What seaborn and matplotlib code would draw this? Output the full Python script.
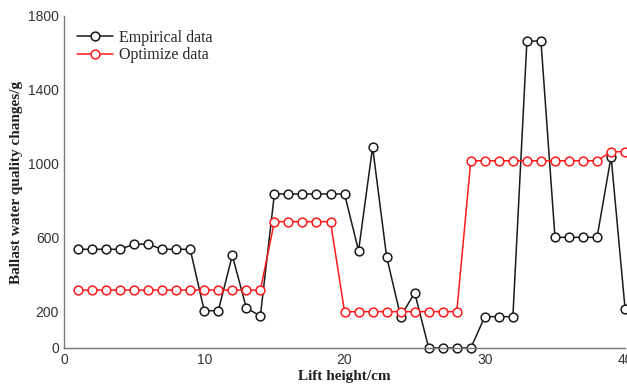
import numpy as np
import pandas as pd
import matplotlib
matplotlib.use("Agg")
import matplotlib.pyplot as plt
import seaborn as sns

# Data
lift_height = list(range(1, 41))
empirical = [535, 535, 535, 535, 563, 563, 535, 535, 535, 202,
             202, 502, 217, 173, 835, 835, 835, 835, 835, 835,
             527, 1089, 495, 170, 300, 0, 0, 0, 0, 170,
             170, 170, 1664, 1664, 600, 600, 600, 600, 1037, 210]
optimized = [314] * 14 + [685] * 5 + [197] * 9 + [1015] * 10 + [1064] * 2

series = {
    "Empirical data": (empirical, "#1a1a1a"),
    "Optimize data": (optimized, "#ff1a1a"),
}

sns.set_style("white")
plt.rcParams["font.family"] = ["Liberation Sans", "DejaVu Sans"]

fig = plt.figure(figsize=(6.27, 3.89), dpi=100)
ax = fig.add_axes([0.102, 0.1054, 0.895, 0.8536])

for name, (vals, col) in series.items():
    sns.lineplot(
        x=lift_height, y=vals, color=col, label=name,
        marker="o", markersize=6.3, markerfacecolor="white",
        markeredgecolor=col, markeredgewidth=1.1,
        linewidth=1.1, ax=ax, clip_on=False)

ax.set_xlim(0, 40)
ax.set_ylim(0, 1800)
ax.set_xticks([0, 10, 20, 30, 40])
ax.set_yticks([0, 200, 600, 1000, 1400, 1800])
ax.tick_params(direction="in", length=4, colors="#555555", labelsize=10,
               labelcolor="#333333", width=0.8)
for side in ["top", "right"]:
    ax.spines[side].set_visible(False)
for side in ["left", "bottom"]:
    ax.spines[side].set_color("#777777")
    ax.spines[side].set_linewidth(1.0)

ax.set_xlabel("Lift height/cm", family="Liberation Serif", fontweight="bold",
              fontsize=11, color="#222222", labelpad=2)
ax.set_ylabel("Ballast water quality changes/g", family="Liberation Serif",
              fontweight="bold", fontsize=11, color="#222222", labelpad=4)

ax.legend(loc="upper left", frameon=False, prop={"family": "Liberation Serif", "size": 11.5},
          handlelength=2.25, borderaxespad=0.0, labelspacing=0.1, handletextpad=0.35,
          bbox_to_anchor=(0.012, 0.978))

fig.savefig("out.png", dpi=100)
